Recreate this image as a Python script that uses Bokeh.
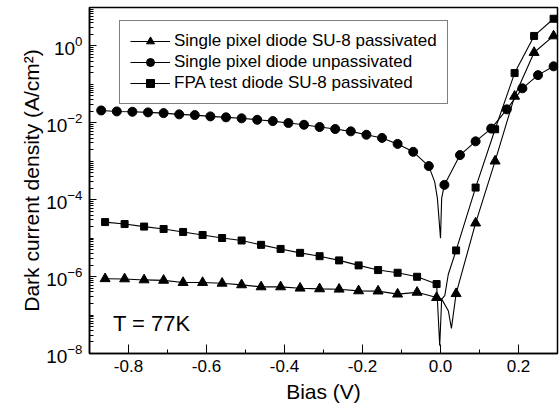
from bokeh.plotting import figure
from bokeh.models import (FixedTicker, LogTickFormatter, Legend, LegendItem, Label,
                          PrintfTickFormatter)
from bokeh.embed import file_html
from bokeh.resources import INLINE

# ---------------- data ----------------
# Single pixel diode SU-8 passivated (triangles)
bias_tri = [-0.86, -0.81, -0.76, -0.71, -0.66, -0.61, -0.56, -0.51, -0.46, -0.41,
            -0.36, -0.31, -0.26, -0.21, -0.16, -0.11, -0.06, -0.01,
            0.04, 0.09, 0.14, 0.19, 0.24, 0.29]
j_tri = [8.8e-7, 8.7e-7, 8.2e-7, 8.0e-7, 7.0e-7, 7.0e-7, 6.7e-7, 6.1e-7, 5.4e-7, 5.4e-7,
         5.0e-7, 4.8e-7, 4.7e-7, 4.25e-7, 4.2e-7, 3.5e-7, 3.9e-7, 2.85e-7,
         3.6e-7, 2.47e-5, 1.01e-3, 4.9e-2, 0.675, 1.82]
# extra line points of the triangle curve around its minimum
bias_tri_dip = [0.003, 0.02, 0.028]
j_tri_dip = [2.6e-7, 1.3e-7, 4.5e-8]

# Single pixel diode unpassivated (circles)
bias_cir = [-0.87, -0.83, -0.79, -0.75, -0.71, -0.67, -0.63, -0.59, -0.55, -0.51,
            -0.47, -0.43, -0.39, -0.35, -0.31, -0.27, -0.23, -0.19, -0.15, -0.11,
            -0.07, -0.03, 0.01, 0.05, 0.09, 0.13, 0.17, 0.21, 0.25, 0.29]
j_cir = [2.10e-2, 1.98e-2, 1.94e-2, 1.87e-2, 1.79e-2, 1.66e-2, 1.59e-2, 1.47e-2, 1.39e-2, 1.31e-2,
         1.20e-2, 1.11e-2, 9.9e-3, 8.9e-3, 7.8e-3, 6.9e-3, 6.0e-3, 4.9e-3, 4.05e-3, 2.83e-3,
         1.76e-3, 7.5e-4, 2.43e-4, 1.45e-3, 3.3e-3, 7.1e-3, 2.24e-2, 7.9e-2, 0.174, 0.295]
bias_cir_dip = [-0.015, -0.008, 0.0, 0.003]
j_cir_dip = [2.95e-4, 1.1e-4, 1.0e-5, 1.1e-4]

# FPA test diode SU-8 passivated (squares)
bias_sq = [-0.86, -0.81, -0.76, -0.71, -0.66, -0.61, -0.56, -0.51, -0.46, -0.41,
           -0.36, -0.31, -0.26, -0.21, -0.16, -0.11, -0.06, -0.01,
           0.04, 0.09, 0.14, 0.19, 0.24, 0.29]
j_sq = [2.62e-5, 2.33e-5, 2.00e-5, 1.73e-5, 1.45e-5, 1.21e-5, 1.01e-5, 8.7e-6, 6.7e-6, 5.25e-6,
        4.15e-6, 3.4e-6, 2.64e-6, 1.96e-6, 1.48e-6, 1.26e-6, 9.9e-7, 6.4e-7,
        4.8e-6, 2.07e-4, 6.8e-3, 0.197, 1.82, 5.1]
bias_sq_dip = [-0.002, 0.003, 0.011, 0.02]
j_sq_dip = [1.6e-8, 2.6e-7, 3.2e-7, 1.15e-6]

labels = ["Single pixel diode SU-8 passivated",
          "Single pixel diode unpassivated",
          "FPA test diode SU-8 passivated"]

x_ticks = [-0.8, -0.6, -0.4, -0.2, 0.0, 0.2]
x_minor = [-0.9, -0.7, -0.5, -0.3, -0.1, 0.1, 0.3]
y_ticks = [1e-8, 1e-6, 1e-4, 1e-2, 1e0]

FONT = "Liberation Sans"


def merged(xs, ys, xd, yd):
    pts = sorted(list(zip(xs, ys)) + list(zip(xd, yd)))
    return [a for a, _ in pts], [b for _, b in pts]


p = figure(width=559, height=408, x_range=(-0.9, 0.3), y_range=(1e-8, 1e1),
           y_axis_type="log", output_backend="svg", toolbar_location=None,
           min_border_left=89, min_border_right=2, min_border_top=7, min_border_bottom=55)
p.background_fill_color = "white"
p.border_fill_color = "white"
p.outline_line_color = "black"
p.outline_line_width = 1.5
p.xgrid.visible = False
p.ygrid.visible = False

series = [
    (bias_tri, j_tri, bias_tri_dip, j_tri_dip, "triangle", 10),
    (bias_cir, j_cir, bias_cir_dip, j_cir_dip, "circle", 9),
    (bias_sq, j_sq, bias_sq_dip, j_sq_dip, "square", 7),
]
items = []
for (xs, ys, xd, yd, mk, sz), lab in zip(series, labels):
    lx, ly = merged(xs, ys, xd, yd)
    r_line = p.line(lx, ly, line_color="black", line_width=1.1)
    r_mk = p.scatter(xs, ys, marker=mk, size=sz, fill_color="black", line_color="black")
    items.append(LegendItem(label=lab, renderers=[r_line, r_mk]))

legend = Legend(items=items, location=(30, 249))
legend.label_text_font = FONT
legend.label_text_font_size = "17px"
legend.label_text_color = "black"
legend.glyph_width = 40
legend.glyph_height = 20
legend.label_height = 20
legend.spacing = 1
legend.padding = 10
legend.margin = 0
legend.label_standoff = 4
legend.border_line_color = "black"
legend.border_line_width = 1
legend.background_fill_alpha = 1
p.add_layout(legend, "center")

# axes
xa = p.xaxis[0]
xa.ticker = FixedTicker(ticks=x_ticks, minor_ticks=x_minor)
xa.formatter = PrintfTickFormatter(format="%.1f")
xa.axis_label = "Bias (V)"
ya = p.yaxis[0]
minor_y = []
for e in range(-8, 2):
    for m in range(1, 10):
        v = m * 10.0 ** e
        if v not in y_ticks and v <= 10:
            minor_y.append(v)
ya.ticker = FixedTicker(ticks=y_ticks, minor_ticks=minor_y)
ya.formatter = LogTickFormatter()
ya.axis_label = "Dark current density (A/cm²)"

for ax in (xa, ya):
    ax.axis_line_color = "black"
    ax.axis_line_width = 1.5
    ax.major_tick_line_color = "black"
    ax.minor_tick_line_color = "black"
    ax.major_tick_out = 0
    ax.minor_tick_out = 0
    ax.major_label_text_font = FONT
    ax.major_label_text_color = "black"
    ax.axis_label_text_font = FONT
    ax.axis_label_text_font_style = "normal"
    ax.axis_label_text_color = "black"
    ax.axis_label_text_font_size = "21px"
xa.major_label_text_font_size = "17px"
ya.major_label_text_font_size = "19px"
xa.major_tick_in = 9
xa.minor_tick_in = 4
ya.major_tick_in = 7
ya.minor_tick_in = 4
xa.major_label_standoff = 6
xa.axis_label_standoff = 5
ya.major_label_standoff = 7
ya.axis_label_standoff = 0

p.add_layout(Label(x=-0.84, y=2.9e-8, text="T = 77K", text_font=FONT,
                   text_font_size="22px", text_color="black"))

open("out.html", "w").write(file_html(p, INLINE))
